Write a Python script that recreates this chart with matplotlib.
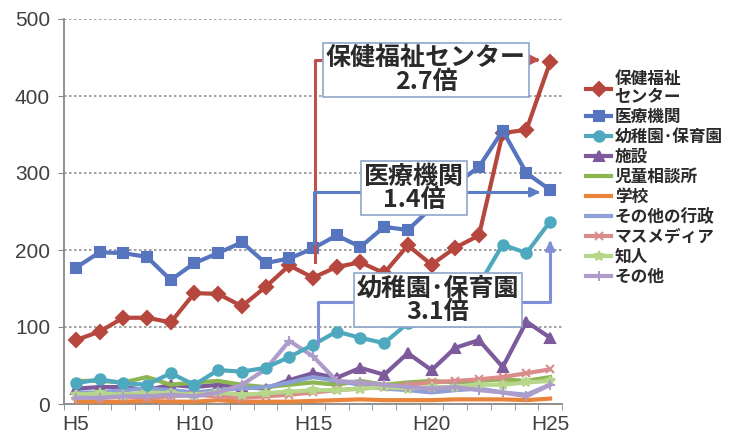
import matplotlib
matplotlib.use("Agg")
import matplotlib.pyplot as plt
from matplotlib.lines import Line2D

plt.rcParams['font.family'] = ['Noto Sans CJK JP', 'DejaVu Sans']

years = ["H5", "H6", "H7", "H8", "H9", "H10", "H11", "H12", "H13", "H14", "H15",
         "H16", "H17", "H18", "H19", "H20", "H21", "H22", "H23", "H24", "H25"]
tick_labels = ["H5", "H10", "H15", "H20", "H25"]

hoken = [83, 94, 112, 112, 106, 144, 143, 127, 152, 180, 164, 178, 184, 170, 206, 181, 203, 219, 352, 356, 444]
iryo = [177, 197, 196, 191, 161, 183, 196, 210, 183, 189, 202, 219, 204, 230, 226, 255, 285, 308, 355, 300, 278]
youchien = [27, 32, 27, 25, 40, 25, 44, 42, 47, 61, 77, 94, 86, 79, 105, 118, 135, 155, 207, 196, 237]
shisetsu = [20, 22, 22, 18, 25, 22, 25, 22, 20, 31, 40, 34, 47, 38, 66, 44, 73, 83, 48, 107, 86]
jidou = [30, 30, 28, 35, 25, 28, 30, 25, 22, 25, 28, 25, 30, 25, 28, 30, 28, 30, 32, 30, 35]
gakkou = [3, 3, 3, 4, 3, 3, 5, 3, 3, 3, 4, 5, 6, 5, 5, 5, 6, 6, 6, 5, 7]
sonota_gyousei = [15, 15, 18, 20, 18, 15, 18, 20, 22, 28, 35, 30, 25, 20, 18, 15, 18, 20, 15, 12, 25]
masumedia = [10, 8, 10, 8, 10, 12, 10, 8, 10, 12, 15, 18, 20, 22, 25, 28, 30, 32, 35, 40, 45]
chijin = [12, 14, 12, 15, 14, 12, 15, 12, 14, 16, 18, 18, 20, 22, 20, 22, 22, 25, 25, 28, 30]
sonota = [8, 8, 10, 10, 12, 10, 15, 25, 45, 82, 62, 30, 28, 25, 22, 20, 22, 18, 15, 10, 25]

labels = ["保健福祉\nセンター", "医療機関", "幼稚園･保育園", "施設", "児童相談所", "学校",
          "その他の行政", "マスメディア", "知人", "その他"]

ann_texts = ["保健福祉センター\n2.7倍", "医療機関\n1.4倍", "幼稚園･保育園\n3.1倍"]
# connector path values
ann_red_y = [185, 447]
ann_blue_y = [209, 275]
ann_teal_y = [79, 132, 216]

W, H = 751, 438
fig = plt.figure(figsize=(W / 100, H / 100), dpi=100)
ax = fig.add_axes([64 / W, (438 - 404) / H, (562 - 64) / W, (404 - 19) / H])

x = list(range(len(years)))

styles = [
    (hoken, "#B5473F", "D", 7),
    (iryo, "#5675BE", "s", 7.5),
    (youchien, "#4FA9BE", "o", 7.5),
    (shisetsu, "#7D5A9C", "^", 7.5),
    (jidou, "#8DB552", None, 0),
    (gakkou, "#E9843A", None, 0),
    (sonota_gyousei, "#8C9FD6", None, 0),
    (masumedia, "#D98C8A", "x", 6),
    (chijin, "#B6D68A", "*", 7),
    (sonota, "#AE9CCB", "+", 7),
]

handles = []
order = list(range(3, 10)) + [2, 0, 1]
for idx in order:
    data, col, mk, ms = styles[idx]
    ax.plot(x, data, color=col, lw=3, marker=mk, ms=ms, mew=1.5,
            mfc=col, mec=col, zorder=3 + (1 if idx < 3 else 0), solid_joinstyle='round')
for idx in range(10):
    data, col, mk, ms = styles[idx]
    handles.append(Line2D([], [], color=col, lw=3, marker=mk, ms=ms, mew=1.5, mfc=col, mec=col))

ax.set_xlim(-0.5, len(years) - 0.5)
ax.set_ylim(0, 500)
ax.set_yticks([0, 100, 200, 300, 400, 500])
ax.set_xticks([years.index(t) for t in tick_labels])
ax.set_xticklabels(tick_labels)
ax.set_xticks([i - 0.5 for i in range(len(years) + 1)], minor=True)
ax.tick_params(axis='x', which='major', length=0, pad=8)
ax.tick_params(axis='x', which='minor', length=4, color='#888888')
ax.tick_params(axis='y', length=4, color='#888888', pad=6)
for lab in ax.get_xticklabels() + ax.get_yticklabels():
    lab.set_fontfamily('Liberation Sans')
    lab.set_fontsize(15)
    lab.set_color('#404040')
ax.grid(axis='y', linestyle=(0, (1.5, 1.5)), color='#909090', lw=1.2)
ax.set_axisbelow(True)
for s in ['top', 'right']:
    ax.spines[s].set_visible(False)
for s in ['left', 'bottom']:
    ax.spines[s].set_color('#888888')
    ax.spines[s].set_linewidth(1.3)

# annotations
red_c = "#C0504D"
blue_c = "#5B7DC6"
teal_c = "#7F8FD6"
xr0, xr1 = 10.1, 19.7
ax.plot([xr0, xr0, xr1 - 0.3], [ann_red_y[0], ann_red_y[1], ann_red_y[1]], color=red_c, lw=2.2, zorder=6)
ax.annotate("", xy=(xr1, ann_red_y[1]), xytext=(xr1 - 0.4, ann_red_y[1]),
            arrowprops=dict(arrowstyle='-|>', color=red_c, lw=2, mutation_scale=14), zorder=6)
ax.plot([10.05, 10.05, xr1 - 0.3], [ann_blue_y[0], ann_blue_y[1], ann_blue_y[1]], color=blue_c, lw=2.2, zorder=6)
ax.annotate("", xy=(xr1, ann_blue_y[1]), xytext=(xr1 - 0.4, ann_blue_y[1]),
            arrowprops=dict(arrowstyle='-|>', color=blue_c, lw=2, mutation_scale=14), zorder=6)
xt1 = 20.0
ax.plot([10.2, 10.2, xt1, xt1], [ann_teal_y[0], ann_teal_y[1], ann_teal_y[1], ann_teal_y[2] - 8],
        color=teal_c, lw=2.2, zorder=6)
ax.annotate("", xy=(xt1, ann_teal_y[2]), xytext=(xt1, ann_teal_y[2] - 12),
            arrowprops=dict(arrowstyle='-|>', color=teal_c, lw=2, mutation_scale=14), zorder=6)

box = dict(boxstyle='square,pad=0.12', fc='white', ec='#8FA6CC', lw=1.2)
fig.text(426 / W, 1 - 70 / H, ann_texts[0], ha='center', va='center', fontsize=18,
         fontweight='bold', color='#2a2a2a', linespacing=0.95, bbox=dict(box), zorder=10)
fig.text(414 / W, 1 - 188 / H, ann_texts[1], ha='center', va='center', fontsize=18,
         fontweight='bold', color='#2a2a2a', linespacing=0.95, bbox=dict(box), zorder=10)
fig.text(438 / W, 1 - 300 / H, ann_texts[2], ha='center', va='center', fontsize=18,
         fontweight='bold', color='#2a2a2a', linespacing=0.95, bbox=dict(box), zorder=10)

leg = fig.legend(handles, labels, loc='upper left', bbox_to_anchor=(578 / W, 1 - 62 / H),
                 frameon=False, borderpad=0, handlelength=1.5, handletextpad=0.2,
                 labelspacing=0.12, prop=dict(family=['Noto Sans CJK JP', 'DejaVu Sans'],
                                               size=12, weight='bold'))
for t in leg.get_texts():
    t.set_color('#2a2a2a')
    t.set_linespacing(0.95)

fig.savefig("out.png", dpi=100)
